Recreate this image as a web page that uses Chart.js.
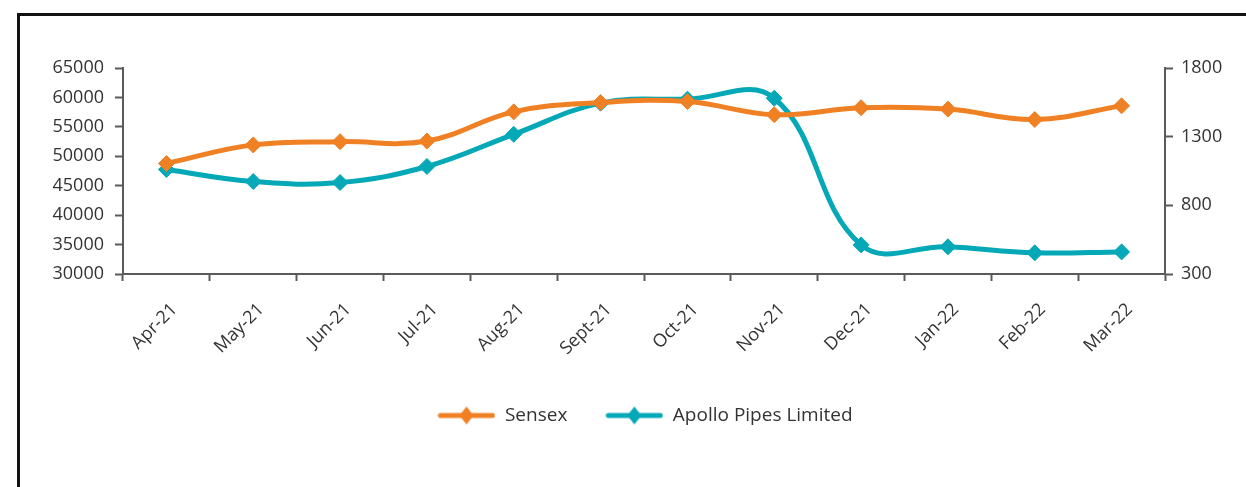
<!DOCTYPE html>
<html>
<head>
<meta charset="utf-8">
<script src="https://cdn.jsdelivr.net/npm/chart.js@4"></script>
<style>
  html, body { margin: 0; padding: 0; background: #fff; }
  #wrap { position: relative; width: 1246px; height: 487px; overflow: hidden; }
  #frame { position: absolute; left: 17px; top: 13px; width: 1300px; height: 600px;
           border-top: 3px solid #111; border-left: 3px solid #111; }
  canvas { position: absolute; left: 0; top: 0; }
</style>
</head>
<body>
<div id="wrap">
  <div id="frame"></div>
  <canvas id="perf_chart" width="1246" height="487"></canvas>
</div>
<script>
const months = ["Apr-21", "May-21", "Jun-21", "Jul-21", "Aug-21", "Sept-21",
                "Oct-21", "Nov-21", "Dec-21", "Jan-22", "Feb-22", "Mar-22"];
const sensex = [48782, 51937, 52483, 52587, 57552, 59126, 59307, 57065, 58254, 58014, 56247, 58569];
const apollo = [1061, 973, 966, 1083, 1317, 1544, 1573, 1580, 512, 498, 454, 461];
const leftTicks = [30000, 35000, 40000, 45000, 50000, 55000, 60000, 65000];
const rightTicks = [300, 800, 1300, 1800];

const orange = "rgb(240, 128, 36)";
const teal = "rgb(4, 168, 183)";
const axisGrey = "#5a5a5a";
const textGrey = "#333";
const fontFamily = "'Open Sans', sans-serif";

// legend symbol: short line with a diamond in the middle
function legendMark(color) {
  const c = document.createElement("canvas");
  c.width = 58;
  c.height = 20;
  const g = c.getContext("2d");
  g.strokeStyle = color;
  g.lineWidth = 5;
  g.lineCap = "round";
  g.beginPath();
  g.moveTo(3, 10);
  g.lineTo(55, 10);
  g.stroke();
  g.fillStyle = color;
  g.beginPath();
  g.moveTo(29, 1);
  g.lineTo(36, 10);
  g.lineTo(29, 19);
  g.lineTo(22, 10);
  g.closePath();
  g.fill();
  return c;
}

const plainNumber = (v) => String(v);

const ctx = document.getElementById("perf_chart");

const perfChart = new Chart(ctx, {
  type: "line",
  data: {
    labels: months,
    datasets: [
      {
        label: "Sensex",
        data: sensex,
        yAxisID: "y",
        borderColor: orange,
        backgroundColor: orange,
        borderWidth: 5,
        tension: 0.4,
        pointStyle: "rectRot",
        pointRadius: 8,
        pointBorderWidth: 1,
        pointBorderColor: orange,
        pointBackgroundColor: orange,
      },
      {
        label: "Apollo Pipes Limited",
        data: apollo,
        yAxisID: "y1",
        borderColor: teal,
        backgroundColor: teal,
        borderWidth: 5,
        tension: 0.4,
        pointStyle: "rectRot",
        pointRadius: 8,
        pointBorderWidth: 1,
        pointBorderColor: teal,
        pointBackgroundColor: teal,
      },
    ],
  },
  options: {
    responsive: false,
    animation: false,
    layout: {
      // left padding keeps the legend centred where the original has it
      padding: { top: 68, bottom: 52, left: 44, right: 0 },
    },
    scales: {
      x: {
        offset: true,
        grid: {
          offset: true,
          drawOnChartArea: false,
          tickLength: 7,
          tickColor: axisGrey,
          tickWidth: 2,
        },
        border: { color: axisGrey, width: 2 },
        ticks: {
          color: textGrey,
          minRotation: 45,
          maxRotation: 45,
          padding: 18,
          labelOffset: 8,
          font: { family: fontFamily, size: 18 },
        },
        afterFit: (scale) => { scale.height = 94; },
      },
      y: {
        position: "left",
        min: 30000,
        max: 65000,
        afterBuildTicks: (scale) => { scale.ticks = leftTicks.map((v) => ({ value: v })); },
        grid: {
          drawOnChartArea: false,
          tickLength: 8,
          tickColor: axisGrey,
          tickWidth: 2,
        },
        border: { color: axisGrey, width: 2 },
        ticks: {
          color: textGrey,
          padding: 11,
          callback: plainNumber,
          font: { family: fontFamily, size: 18 },
        },
        afterFit: (scale) => { scale.width = 79; },
      },
      y1: {
        position: "right",
        min: 300,
        max: 1800,
        afterBuildTicks: (scale) => { scale.ticks = rightTicks.map((v) => ({ value: v })); },
        grid: {
          drawOnChartArea: false,
          tickLength: 8,
          tickColor: axisGrey,
          tickWidth: 2,
        },
        border: { color: axisGrey, width: 2 },
        ticks: {
          color: textGrey,
          padding: 8,
          callback: plainNumber,
          font: { family: fontFamily, size: 18 },
        },
        afterFit: (scale) => { scale.width = 81; },
      },
    },
    plugins: {
      tooltip: { enabled: false },
      legend: {
        position: "bottom",
        labels: {
          usePointStyle: true,
          pointStyleWidth: 58,
          padding: 38,
          color: textGrey,
          font: { family: fontFamily, size: 19 },
          generateLabels: (chart) =>
            chart.data.datasets.map((ds, i) => ({
              text: ds.label,
              pointStyle: legendMark(ds.borderColor),
              fillStyle: ds.borderColor,
              strokeStyle: ds.borderColor,
              lineWidth: 0,
              hidden: false,
              datasetIndex: i,
              fontColor: textGrey,
            })),
        },
      },
    },
  },
});
</script>
</body>
</html>
